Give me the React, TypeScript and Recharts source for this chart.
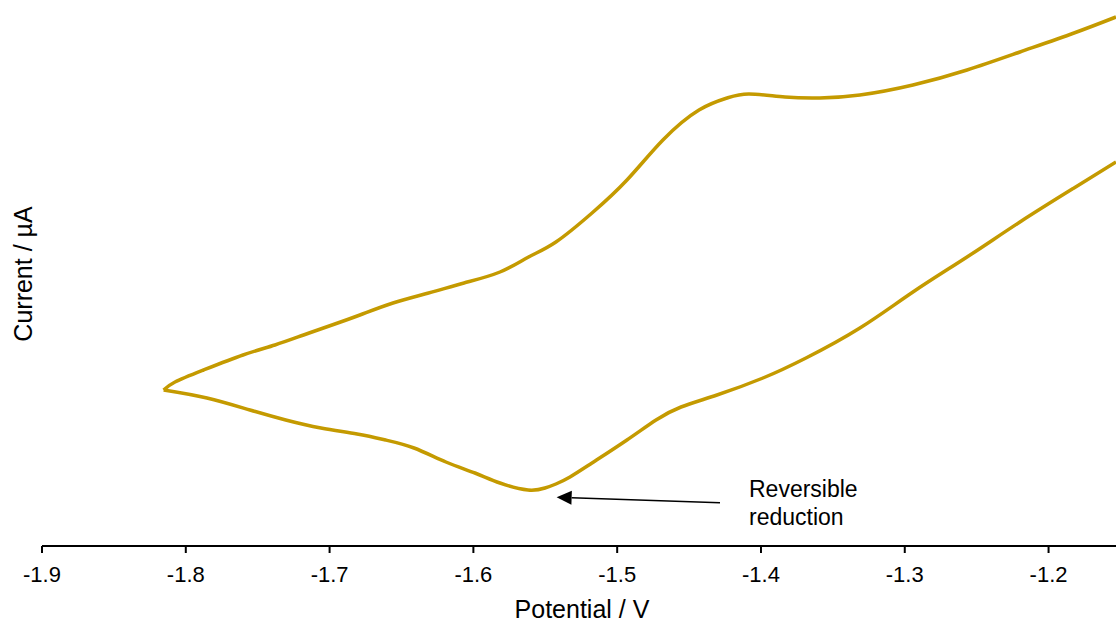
import { LineChart, Line, XAxis, YAxis, ReferenceLine } from "recharts";

// Potential (V) and current (µA)
const forwardPotential = [
  -1.8154, -1.8075, -1.7876, -1.7602, -1.738, -1.7181, -1.6983, -1.6789, -1.6559, -1.6312,
  -1.6065, -1.5815, -1.5616, -1.5426, -1.5175, -1.4932, -1.4682, -1.4431, -1.4236, -1.4083,
  -1.3833, -1.359, -1.3312, -1.2943, -1.2567, -1.2199, -1.1823, -1.1531,
];
const forwardCurrent = [
  15.6, 16.4, 17.6, 19.1, 20.1, 21.1, 22.1, 23.1, 24.3, 25.3,
  26.3, 27.4, 28.9, 30.4, 33.3, 36.6, 40.6, 43.6, 44.8, 45.2,
  44.9, 44.8, 45.1, 46.1, 47.6, 49.4, 51.3, 52.9,
];

const reversePotential = [
  -1.8154, -1.7853, -1.7554, -1.7305, -1.706, -1.6809, -1.661, -1.6413, -1.6191, -1.5989,
  -1.5815, -1.562, -1.5502, -1.5426, -1.5328, -1.5175, -1.4932, -1.473, -1.4556, -1.4306,
  -1.3986, -1.3687, -1.3312, -1.2943, -1.2567, -1.2199, -1.1823, -1.1531,
];
const reverseCurrent = [
  15.6, 14.8, 13.6, 12.6, 11.8, 11.2, 10.6, 9.8, 8.4, 7.3,
  6.3, 5.6, 5.8, 6.2, 6.9, 8.3, 10.6, 12.6, 13.9, 15.1,
  16.8, 18.8, 21.8, 25.4, 28.9, 32.4, 35.8, 38.4,
];

const potentialTicks = [-1.9, -1.8, -1.7, -1.6, -1.5, -1.4, -1.3, -1.2];

// annotation arrow: tip at the reduction peak, tail near the text
const arrowTip = { v: -1.5421, i: 4.87 };
const arrowTail = { v: -1.4285, i: 4.33 };
const noteLines = ["Reversible", "reduction"];

const forwardData = forwardPotential.map((v, k) => ({ v, i: forwardCurrent[k] }));
const reverseData = reversePotential.map((v, k) => ({ v, i: reverseCurrent[k] }));

const LINE_COLOR = "#C49A00";
const FONT = "'Liberation Sans', Arial, sans-serif";

const ArrowNote = (props: any) => {
  const { x1, y1, x2, y2 } = props;
  // x1,y1 = tip ; x2,y2 = tail
  const ang = Math.atan2(y1 - y2, x1 - x2);
  const len = 15;
  const half = 7;
  const bx = x1 - len * Math.cos(ang);
  const by = y1 - len * Math.sin(ang);
  const px = -Math.sin(ang) * half;
  const py = Math.cos(ang) * half;
  return (
    <g>
      <line x1={bx} y1={by} x2={x2} y2={y2} stroke="#000" strokeWidth={1.5} />
      <polygon points={`${x1},${y1} ${bx + px},${by + py} ${bx - px},${by - py}`} fill="#000" />
      <text x={x2 + 29} y={y2 - 5.5} fontSize={23} fill="#000" fontFamily={FONT}>
        <tspan x={x2 + 29}>{noteLines[0]}</tspan>
        <tspan x={x2 + 29} dy={28}>{noteLines[1]}</tspan>
      </text>
    </g>
  );
};

const YTitle = () => (
  <text transform="translate(32,274) rotate(-90)" textAnchor="middle" fontSize={25} fill="#000" fontFamily={FONT}>
    Current / µA
  </text>
);

const App = () => (
  <div style={{ position: "absolute", left: 0, top: 0, background: "#fff" }}>
    <LineChart width={1116} height={624} margin={{ top: 0, right: 0, bottom: 0, left: 0 }} style={{ fontFamily: FONT }}>
      <XAxis
        type="number"
        dataKey="v"
        domain={[-1.9, -1.1531]}
        ticks={potentialTicks}
        allowDataOverflow
        height={78}
        stroke="#000"
        strokeWidth={2}
        tickSize={7}
        tickMargin={13}
        tick={{ fontSize: 22, fill: "#000" }}
        tickFormatter={(t: number) => t.toFixed(1)}
        label={{ value: "Potential / V", position: "insideBottom", offset: 6, dx: 3, fontSize: 25, fill: "#000" }}
      />
      <YAxis
        type="number"
        dataKey="i"
        domain={[0, 54.6]}
        allowDataOverflow
        width={42}
        axisLine={false}
        tickLine={false}
        tick={false}
        label={{ content: YTitle }}
      />
      <Line data={forwardData} dataKey="i" type="natural" stroke={LINE_COLOR} strokeWidth={3.5} dot={false} isAnimationActive={false} />
      <Line data={reverseData} dataKey="i" type="natural" stroke={LINE_COLOR} strokeWidth={3.5} dot={false} isAnimationActive={false} />
      <ReferenceLine
        segment={[
          { x: arrowTip.v, y: arrowTip.i },
          { x: arrowTail.v, y: arrowTail.i },
        ]}
        shape={ArrowNote}
        ifOverflow="visible"
      />
    </LineChart>
  </div>
);

export default App;
